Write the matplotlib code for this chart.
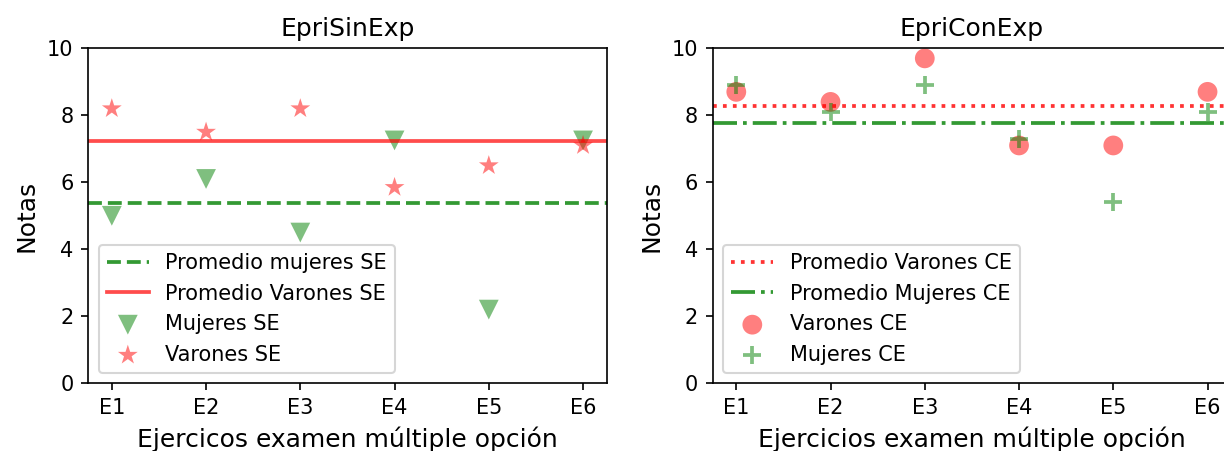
import numpy as np
import matplotlib
matplotlib.use("Agg")
import matplotlib.pyplot as plt

ejercicios = ['E1', 'E2', 'E3', 'E4', 'E5', 'E6']

# EpriSinExp
varones_se = [8.2, 7.5, 8.2, 5.85, 6.5, 7.1]
mujeres_se = [5.0, 6.1, 4.5, 7.25, 2.2, 7.25]

# EpriConExp
varones_ce = [8.7, 8.4, 9.7, 7.1, 7.1, 8.7]
mujeres_ce = [8.9, 8.1, 8.9, 7.3, 5.4, 8.1]

fig = plt.figure(figsize=(1224 / 150, 451 / 150), dpi=150)
ax1 = fig.add_axes([0.0721, 0.1501, 0.4235, 0.7428])
ax2 = fig.add_axes([0.5823, 0.1501, 0.4235, 0.7428])

x = np.arange(len(ejercicios))

ax1.axhline(np.mean(mujeres_se), color='g', linestyle='--', lw=1.8, alpha=0.8, label='Promedio mujeres SE')
ax1.axhline(np.mean(varones_se), color='r', linestyle='-', lw=1.8, alpha=0.7, label='Promedio Varones SE')
ax1.scatter(x, mujeres_se, marker='v', s=90, color='g', alpha=0.5, edgecolors='none', label='Mujeres SE')
ax1.scatter(x, varones_se, marker='*', s=100, color='r', alpha=0.5, edgecolors='none', label='Varones SE')
ax1.set_title('EpriSinExp', fontsize=12)
ax1.set_xlabel('Ejercicos examen múltiple opción', fontsize=12)
ax1.set_ylabel('Notas', fontsize=12)

ax2.axhline(np.mean(varones_ce), color='r', linestyle=':', lw=1.8, alpha=0.8, label='Promedio Varones CE')
ax2.axhline(np.mean(mujeres_ce), color='g', linestyle='-.', lw=1.8, alpha=0.8, label='Promedio Mujeres CE')
ax2.scatter(x, varones_ce, marker='o', s=90, color='r', alpha=0.5, edgecolors='none', label='Varones CE')
ax2.scatter(x, mujeres_ce, marker='+', s=80, color='g', alpha=0.5, linewidths=1.8, label='Mujeres CE')
ax2.set_title('EpriConExp', fontsize=12)
ax2.set_xlabel('Ejercicios examen múltiple opción', fontsize=12)
ax2.set_ylabel('Notas', fontsize=12)

for ax in (ax1, ax2):
    ax.set_ylim(0, 10)
    ax.set_xticks(x)
    ax.set_xticklabels(ejercicios)
    ax.legend(loc='lower left', fontsize=10)

fig.savefig('out.png', dpi=150)
